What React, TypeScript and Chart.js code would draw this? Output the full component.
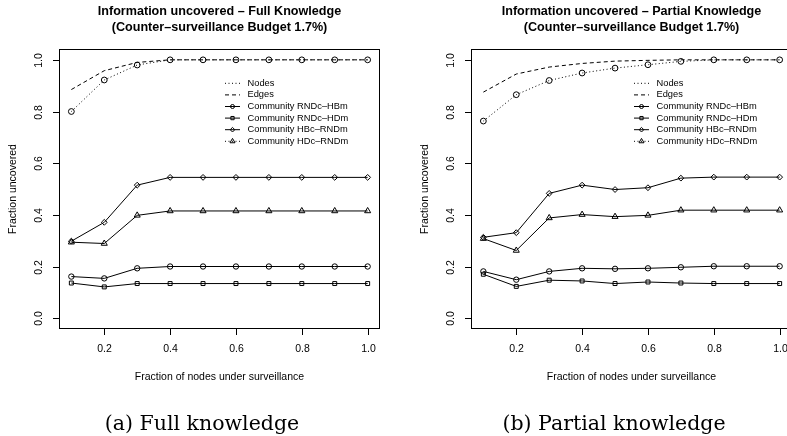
import React, { useEffect, useRef } from "react";
import { Chart, registerables } from "chart.js";

Chart.register(...registerables);

// ---------- data ----------
const xValues = [0.1, 0.2, 0.3, 0.4, 0.5, 0.6, 0.7, 0.8, 0.9, 1.0];
const xTicks = [0.2, 0.4, 0.6, 0.8, 1.0];
const yTicks = [0.0, 0.2, 0.4, 0.6, 0.8, 1.0];

const seriesLabels = [
  "Nodes",
  "Edges",
  "Community RNDc–HBm",
  "Community RNDc–HDm",
  "Community HBc–RNDm",
  "Community HDc–RNDm",
];

// Full knowledge
const fullNodes = [0.8, 0.922, 0.98, 1, 1, 1, 1, 1, 1, 1];
const fullEdges = [0.885, 0.958, 0.99, 1, 1, 1, 1, 1, 1, 1];
const fullRndcHbm = [0.161, 0.154, 0.193, 0.2, 0.2, 0.2, 0.2, 0.2, 0.2, 0.2];
const fullRndcHdm = [0.136, 0.121, 0.134, 0.134, 0.134, 0.134, 0.134, 0.134, 0.134, 0.134];
const fullHbcRndm = [0.298, 0.371, 0.515, 0.545, 0.545, 0.545, 0.545, 0.545, 0.545, 0.545];
const fullHdcRndm = [0.294, 0.289, 0.398, 0.415, 0.415, 0.415, 0.415, 0.415, 0.415, 0.415];

// Partial knowledge
const partNodes = [0.763, 0.865, 0.92, 0.949, 0.968, 0.981, 0.994, 1, 1, 1];
const partEdges = [0.875, 0.945, 0.972, 0.986, 0.995, 0.998, 1, 1, 1, 1];
const partRndcHbm = [0.181, 0.149, 0.181, 0.193, 0.191, 0.193, 0.197, 0.201, 0.201, 0.201];
const partRndcHdm = [0.17, 0.123, 0.147, 0.144, 0.134, 0.14, 0.136, 0.134, 0.134, 0.134];
const partHbcRndm = [0.313, 0.331, 0.483, 0.515, 0.498, 0.505, 0.542, 0.546, 0.546, 0.546];
const partHdcRndm = [0.308, 0.262, 0.388, 0.401, 0.393, 0.398, 0.418, 0.418, 0.418, 0.418];

const titleFull = ["Information uncovered – Full Knowledge", "(Counter–surveillance Budget 1.7%)"];
const titlePartial = ["Information uncovered – Partial Knowledge", "(Counter–surveillance Budget 1.7%)"];
const captionFull = "(a) Full knowledge";
const captionPartial = "(b) Partial knowledge";
const xAxisTitle = "Fraction of nodes under surveillance";
const yAxisTitle = "Fraction uncovered";

// ---------- styles ----------
const SANS = "'Liberation Sans', Arial, Helvetica, sans-serif";
const CANVAS_W = 412;
const CANVAS_H = 436;

type St = {
  dash: number[];
  marker: string | null;
  r: number;
  legendDash: number[];
  legendMarker: boolean;
  lr: number;
};

const seriesStyles: St[] = [
  { dash: [1, 2.5], marker: "circle", r: 2.9, legendDash: [1, 2.5], legendMarker: false, lr: 0 },
  { dash: [4, 3], marker: null, r: 0, legendDash: [4, 3], legendMarker: false, lr: 0 },
  { dash: [], marker: "circle", r: 2.7, legendDash: [], legendMarker: true, lr: 2.0 },
  { dash: [], marker: "rect", r: 2.8, legendDash: [], legendMarker: true, lr: 2.3 },
  { dash: [], marker: "rectRot", r: 2.9, legendDash: [], legendMarker: true, lr: 2.3 },
  { dash: [], marker: "triangle", r: 3.5, legendDash: [1, 2.5], legendMarker: true, lr: 2.9 },
];

function drawMarker(ctx: CanvasRenderingContext2D, style: string, x: number, y: number, r: number) {
  ctx.beginPath();
  if (style === "circle") {
    ctx.arc(x, y, r, 0, Math.PI * 2);
  } else if (style === "rect") {
    const s = r * Math.SQRT1_2;
    ctx.rect(x - s, y - s, 2 * s, 2 * s);
  } else if (style === "rectRot") {
    ctx.moveTo(x, y - r);
    ctx.lineTo(x + r, y);
    ctx.lineTo(x, y + r);
    ctx.lineTo(x - r, y);
    ctx.closePath();
  } else if (style === "triangle") {
    ctx.moveTo(x, y - r);
    ctx.lineTo(x + r * 0.866, y + r / 2);
    ctx.lineTo(x - r * 0.866, y + r / 2);
    ctx.closePath();
  }
  ctx.stroke();
}

type PanelCfg = {
  title: string[];
  caption: string;
  series: number[][];
  legendX: number;
};

function makePlugin(cfg: PanelCfg) {
  return {
    id: "rstyle",
    afterDraw(chart: any) {
      const ctx: CanvasRenderingContext2D = chart.ctx;
      const ca = chart.chartArea;
      const xs = chart.scales.x;
      const ys = chart.scales.y;
      const cx = (ca.left + ca.right) / 2;
      const cy = (ca.top + ca.bottom) / 2;
      ctx.save();
      ctx.strokeStyle = "#000";
      ctx.fillStyle = "#000";
      ctx.lineWidth = 1;
      ctx.setLineDash([]);

      // box
      ctx.strokeRect(ca.left, ca.top, ca.right - ca.left, ca.bottom - ca.top);

      // x axis
      const xt: number[] = xs.ticks && xs.ticks.length ? xs.ticks.map((t: any) => t.value) : xTicks;
      const x0 = xs.getPixelForValue(xt[0]);
      const x1 = xs.getPixelForValue(xt[xt.length - 1]);
      ctx.beginPath();
      ctx.moveTo(x0, ca.bottom);
      ctx.lineTo(x1, ca.bottom);
      ctx.stroke();
      ctx.font = `10.5px ${SANS}`;
      ctx.textAlign = "center";
      ctx.textBaseline = "middle";
      xt.forEach((v) => {
        const px = Math.round(xs.getPixelForValue(v)) + 0.5;
        ctx.beginPath();
        ctx.moveTo(px, ca.bottom);
        ctx.lineTo(px, ca.bottom + 6.5);
        ctx.stroke();
        ctx.fillText(v.toFixed(1), px, 349.5);
      });

      // y axis
      const yt: number[] = ys.ticks && ys.ticks.length ? ys.ticks.map((t: any) => t.value) : yTicks;
      const y0 = ys.getPixelForValue(yt[0]);
      const y1 = ys.getPixelForValue(yt[yt.length - 1]);
      ctx.beginPath();
      ctx.moveTo(ca.left, y0);
      ctx.lineTo(ca.left, y1);
      ctx.stroke();
      yt.forEach((v) => {
        const py = Math.round(ys.getPixelForValue(v)) + 0.5;
        ctx.beginPath();
        ctx.moveTo(ca.left, py);
        ctx.lineTo(ca.left - 6.5, py);
        ctx.stroke();
        ctx.save();
        ctx.translate(39, py);
        ctx.rotate(-Math.PI / 2);
        ctx.fillText(v.toFixed(1), 0, 0);
        ctx.restore();
      });

      // axis titles
      ctx.fillText(xAxisTitle, cx, 377);
      ctx.save();
      ctx.translate(13.5, cy);
      ctx.rotate(-Math.PI / 2);
      ctx.fillText(yAxisTitle, 0, 0);
      ctx.restore();

      // main title
      ctx.font = `bold 12.6px ${SANS}`;
      ctx.fillText(cfg.title[0], cx, 11.5);
      ctx.fillText(cfg.title[1], cx, 28);

      // legend
      ctx.font = `9.3px ${SANS}`;
      ctx.textAlign = "left";
      const lx = cfg.legendX;
      const lw = 15;
      seriesLabels.forEach((lab, i) => {
        const st = seriesStyles[i];
        const ly = 83.3 + i * 11.6;
        ctx.setLineDash(st.legendDash);
        ctx.beginPath();
        ctx.moveTo(lx, ly);
        ctx.lineTo(lx + lw, ly);
        ctx.stroke();
        ctx.setLineDash([]);
        if (st.legendMarker && st.marker) drawMarker(ctx, st.marker, lx + lw / 2, ly, st.lr);
        ctx.fillText(lab, lx + 22.5, ly);
      });

      // caption
      ctx.font = `20.5px 'DejaVu Serif', serif`;
      ctx.textAlign = "center";
      ctx.textBaseline = "alphabetic";
      ctx.fillText(cfg.caption, 202, 430);
      ctx.restore();
    },
  };
}

function Panel({ cfg, left }: { cfg: PanelCfg; left: number }) {
  const ref = useRef<HTMLCanvasElement | null>(null);
  useEffect(() => {
    const canvas = ref.current;
    if (!canvas) return;
    const datasets = cfg.series.map((vals, i) => {
      const st = seriesStyles[i];
      return {
        label: seriesLabels[i],
        data: xValues.map((x, j) => ({ x, y: vals[j] })),
        borderColor: "#000",
        borderWidth: 1,
        borderDash: st.dash,
        pointRadius: st.marker ? st.r : 0,
        pointStyle: st.marker || "circle",
        pointBorderColor: "#000",
        pointBackgroundColor: "rgba(0,0,0,0)",
        pointBorderWidth: 1,
        tension: 0,
        fill: false,
      };
    });
    const chart = new Chart(canvas, {
      type: "line",
      data: { datasets } as any,
      options: {
        animation: false,
        responsive: false,
        devicePixelRatio: 1,
        events: [],
        layout: { padding: { left: 59.5, right: CANVAS_W - 379.5, top: 49.5, bottom: CANVAS_H - 328.5 } },
        plugins: { legend: { display: false }, title: { display: false }, tooltip: { enabled: false } },
        scales: {
          x: {
            type: "linear",
            min: 0.064,
            max: 1.036,
            display: false,
            afterBuildTicks: (s: any) => {
              s.ticks = xTicks.map((v) => ({ value: v }));
            },
          },
          y: {
            type: "linear",
            min: -0.04,
            max: 1.04,
            display: false,
            afterBuildTicks: (s: any) => {
              s.ticks = yTicks.map((v) => ({ value: v }));
            },
          },
        },
      } as any,
      plugins: [makePlugin(cfg) as any],
    });
    return () => chart.destroy();
  }, [cfg]);
  return (
    <canvas
      ref={ref}
      width={CANVAS_W}
      height={CANVAS_H}
      style={{ position: "absolute", left, top: 0, width: CANVAS_W, height: CANVAS_H }}
    />
  );
}

const fullCfg: PanelCfg = {
  title: titleFull,
  caption: captionFull,
  series: [fullNodes, fullEdges, fullRndcHbm, fullRndcHdm, fullHbcRndm, fullHdcRndm],
  legendX: 225,
};
const partCfg: PanelCfg = {
  title: titlePartial,
  caption: captionPartial,
  series: [partNodes, partEdges, partRndcHbm, partRndcHdm, partHbcRndm, partHdcRndm],
  legendX: 222,
};

export default function App() {
  return (
    <div
      style={{
        position: "fixed",
        left: 0,
        top: 0,
        width: 787,
        height: 436,
        overflow: "hidden",
        background: "#fff",
      }}
    >
      <Panel cfg={fullCfg} left={0} />
      <Panel cfg={partCfg} left={411.5} />
    </div>
  );
}
